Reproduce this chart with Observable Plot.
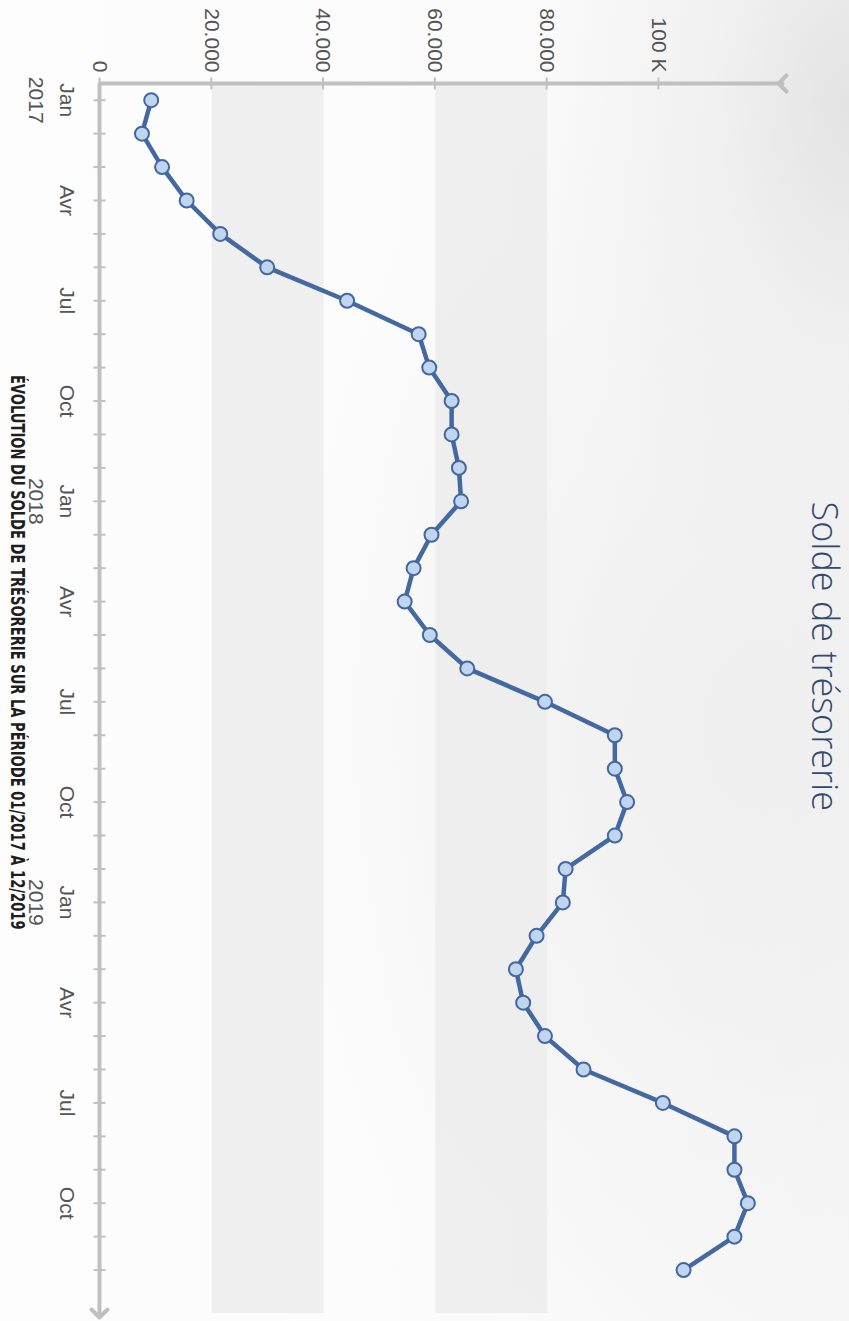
<!DOCTYPE html>
<html>
<head>
<meta charset="utf-8">
<script src="https://cdn.jsdelivr.net/npm/d3@7"></script>
<script src="https://cdn.jsdelivr.net/npm/@observablehq/plot@0.6"></script>
<style>
  html, body { margin: 0; padding: 0; width: 849px; height: 1321px; overflow: hidden; background: #fbfbfb; }
  #frame {
    position: absolute; left: 0; top: 0; width: 1321px; height: 849px;
    transform-origin: 0 0; transform: translate(849px, 0) rotate(90deg);
    background:
      radial-gradient(ellipse 520px 300px at 8% 0%, rgba(225,225,225,0.9) 0%, rgba(238,238,238,0.7) 45%, rgba(255,255,255,0) 100%),
      radial-gradient(ellipse 700px 500px at 55% 10%, rgba(236,236,236,0.8) 0%, rgba(255,255,255,0) 100%),
      linear-gradient(180deg, #f7f7f7 0%, #fcfcfc 60%, #fdfdfd 100%);
    font-family: "Liberation Sans", Arial, sans-serif;
  }
  #title {
    position: absolute; top: 2px; left: 0; width: 1321px; text-align: left;
    font-family: "Open Sans", sans-serif; font-weight: 300; font-size: 36px; color: #34486e;
    white-space: nowrap; line-height: 1.2;
  }
  #title span { position: absolute; }
  #chart { position: absolute; left: 0; top: 60px; }
  #caption {
    position: absolute; top: 822px; left: 375px; white-space: nowrap;
    font-family: "DejaVu Sans Condensed", "DejaVu Sans", sans-serif; font-stretch: condensed;
    font-weight: bold; font-size: 19px; line-height: 1; color: #1e1e1e; transform-origin: 0 0;
  }
</style>
</head>
<body>
<div id="frame">
  <div id="title"><span id="titleText">Solde de trésorerie</span></div>
  <div id="chart"></div>
  <div id="caption">ÉVOLUTION DU SOLDE DE TRÉSORERIE SUR LA PÉRIODE 01/2017 À 12/2019</div>
</div>
<script>
// ---- data ----
const months = [
  "2017-01","2017-02","2017-03","2017-04","2017-05","2017-06","2017-07","2017-08","2017-09","2017-10","2017-11","2017-12",
  "2018-01","2018-02","2018-03","2018-04","2018-05","2018-06","2018-07","2018-08","2018-09","2018-10","2018-11","2018-12",
  "2019-01","2019-02","2019-03","2019-04","2019-05","2019-06","2019-07","2019-08","2019-09","2019-10","2019-11","2019-12"
];
const solde = [
  9250, 7600, 11200, 15600, 21600, 30000, 44300, 57100, 59000, 63000, 63000, 64300,
  64700, 59400, 56200, 54600, 59100, 65800, 79700, 92200, 92200, 94400, 92200, 83400,
  82900, 78200, 74500, 75800, 79700, 86600, 100800, 113600, 113600, 116000, 113600, 104500
];
const valueTicks = [0, 20000, 40000, 60000, 80000, 100000];
const valueTickLabels = ["0", "20.000", "40.000", "60.000", "80.000", "100 K"];
const quarterMonths = ["2017-01","2017-04","2017-07","2017-10","2018-01","2018-04","2018-07","2018-10","2019-01","2019-04","2019-07","2019-10"];
const quarterLabels = ["Jan\n2017","Avr","Jul","Oct","Jan\n2018","Avr","Jul","Oct","Jan\n2019","Avr","Jul","Oct"];
const bandLow = [20000, 60000];
const bandHigh = [40000, 80000];

// ---- derived tables ----
const data = months.map((m, i) => ({i, month: m, value: solde[i]}));
const bands = bandLow.map((lo, k) => ({lo, hi: bandHigh[k]}));
const quarters = quarterMonths.map((m, k) => ({i: months.indexOf(m), label: quarterLabels[k]}));

const xMin = -0.5, xMax = 36.3, yMax = 122200;
const axisColor = "#c0c0c0";
const hTick = {draw(ctx) { ctx.moveTo(-6, 0); ctx.lineTo(6, 0); }};
const vTick = {draw(ctx) { ctx.moveTo(0, -6); ctx.lineTo(0, 6); }};

const chart = Plot.plot({
  width: 1321, height: 760,
  marginLeft: 83, marginRight: 8, marginTop: 6, marginBottom: 71,
  x: {type: "linear", domain: [xMin, xMax], axis: null},
  y: {domain: [0, yMax], axis: null},
  style: {background: "transparent", overflow: "visible", fontFamily: "'Liberation Sans', Arial, sans-serif"},
  marks: [
    Plot.rect(bands, {x1: () => xMin, x2: () => xMax, y1: "lo", y2: "hi", fill: "#ececec", fillOpacity: 0.85}),
    Plot.line([{x: xMin, y: yMax}, {x: xMin, y: 0}, {x: xMax, y: 0}], {
      x: "x", y: "y", stroke: axisColor, strokeWidth: 4, markerStart: "arrow", markerEnd: "arrow", strokeLinejoin: "miter"
    }),
    Plot.dot(valueTicks, {x: () => xMin, y: d => d, symbol: hTick, stroke: axisColor, strokeWidth: 2}),
    Plot.dot(data, {x: "i", y: () => 0, symbol: vTick, stroke: axisColor, strokeWidth: 2}),
    Plot.text(valueTicks, {x: () => xMin, y: d => d, text: (d, k) => valueTickLabels[k], textAnchor: "end", dx: -11, fontSize: 21, fill: "#555555"}),
    Plot.text(quarters, {x: "i", y: () => 0, text: "label", lineAnchor: "top", dy: 18, lineHeight: 1.45, fontSize: 21, fill: "#555555"}),
    Plot.line(data, {x: "i", y: "value", stroke: "#4468a0", strokeWidth: 4.5, strokeLinejoin: "round"}),
    Plot.dot(data, {x: "i", y: "value", r: 7, fill: "#bfd5f0", stroke: "#44679d", strokeWidth: 2})
  ]
});
document.getElementById("chart").appendChild(chart);

// title centred on u = 656
const t = document.getElementById("titleText");
t.style.left = (656 - t.offsetWidth / 2) + "px";
// caption stretched to its width in the reference (u 375..930)
const c = document.getElementById("caption");
c.style.transform = `scaleX(${555 / c.offsetWidth})`;
</script>
</body>
</html>
